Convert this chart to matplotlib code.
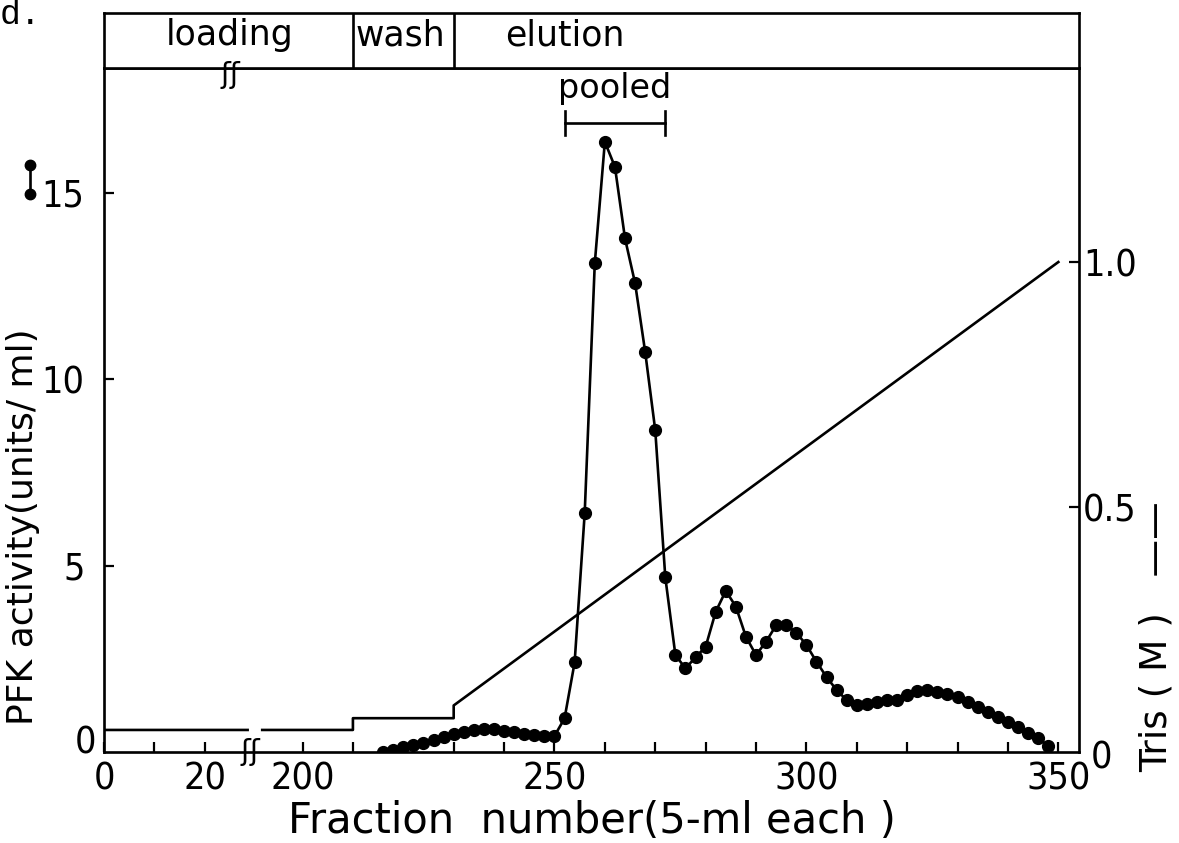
import numpy as np
import matplotlib
matplotlib.use("Agg")
import matplotlib.pyplot as plt
from matplotlib import font_manager as fm

# PFK activity (units/ml) per fraction
fraction = [216, 218, 220, 222, 224, 226, 228, 230, 232, 234, 236, 238, 240, 242,
            244, 246, 248, 250, 252, 254, 256, 258, 260, 262, 264, 266, 268, 270,
            272, 274, 276, 278, 280, 282, 284, 286, 288, 290, 292, 294, 296, 298,
            300, 302, 304, 306, 308, 310, 312, 314, 316, 318, 320, 322, 324, 326,
            328, 330, 332, 334, 336, 338, 340, 342, 344, 346, 348]
pfk = [0.0, 0.05, 0.13, 0.19, 0.25, 0.32, 0.39, 0.48, 0.54, 0.59, 0.61, 0.61, 0.57, 0.53,
       0.48, 0.46, 0.43, 0.43, 0.90, 2.4, 6.4, 13.1, 16.36, 15.69, 13.77, 12.57, 10.73, 8.63,
       4.68, 2.60, 2.24, 2.54, 2.82, 3.76, 4.32, 3.90, 3.09, 2.60, 2.96, 3.40, 3.40, 3.20,
       2.87, 2.42, 2.01, 1.66, 1.39, 1.26, 1.29, 1.34, 1.39, 1.39, 1.53, 1.64, 1.66, 1.62,
       1.55, 1.47, 1.35, 1.20, 1.08, 0.95, 0.81, 0.66, 0.52, 0.37, 0.16]

# Tris (M): loading, wash, then linear elution gradient
tris_x = [0, 28.5, np.nan, 192, 210, 210, 230, 230, 350]
tris_y = [0.045, 0.045, np.nan, 0.045, 0.045, 0.069, 0.069, 0.095, 1.0]

phases = ["loading", "wash", "elution"]
phase_edges = [210, 230]
pooled = [252, 272]

xticks = [0, 10, 20, 200, 210, 220, 230, 240, 250, 260, 270, 280, 290, 300,
          310, 320, 330, 340, 350]
xlabels = ["0", "", "20", "200", "", "", "", "", "250", "", "", "", "", "300",
           "", "", "", "", "350"]

# broken x axis: 29..191 squeezed into a small gap
A, B, OFF = 29.0, 191.0, 160.6
GAP = (B - OFF) - A


def fwd(x):
    x = np.asarray(x, dtype=float)
    return np.where(x <= A, x, np.where(x >= B, x - OFF, A + (x - A) * GAP / (B - A)))


def inv(y):
    y = np.asarray(y, dtype=float)
    return np.where(y <= A, y, np.where(y >= A + GAP, y + OFF, A + (y - A) * (B - A) / GAP))


# a narrow face for the numbers if one is installed
cond = None
for want in ['liberationsansnarrow-regular', 'dejavusanscondensed.ttf', 'robotocondensed-regular']:
    for f in fm.fontManager.ttflist:
        if want in f.fname.lower().replace(' ', ''):
            cond = f.fname
            break
    if cond:
        break
if cond:
    num_fp = fm.FontProperties(fname=cond, size=27)
else:
    num_fp = fm.FontProperties(family='DejaVu Sans', size=24)

W, H = 1179, 843
fig = plt.figure(figsize=(W / 100, H / 100), dpi=100)
plt.rcParams['font.family'] = ['DejaVu Sans']

L, R, T, BOT, HT = 104, 1079, 68, 752, 13
ax = fig.add_axes((L / W, 1 - BOT / H, (R - L) / W, (BOT - T) / H))
ax.set_xscale('function', functions=(fwd, inv))
ax.set_xlim(0, 354.1)
ax.set_ylim(0, 18.34)

lw = 1.9
ax.plot(fraction, pfk, color='black', lw=lw, marker='o', ms=8.5, zorder=3)

ax.set_xticks(xticks)
ax.set_xticklabels(xlabels, fontproperties=num_fp)
ax.set_yticks([5, 10, 15])
ax.set_yticklabels(["5", "10", "15"], fontproperties=num_fp)
ax.tick_params(axis='both', direction='in', length=7, width=1.6)
ax.tick_params(axis='x', pad=7)
ax.tick_params(axis='y', pad=14)
for s in ax.spines.values():
    s.set_linewidth(lw)
ax.text(-0.008, 0.012, "0", transform=ax.transAxes, ha='right', va='center',
        fontproperties=num_fp)

ax2 = ax.twinx()
ax2.set_ylim(0, 1.396)
ax2.plot(tris_x, tris_y, color='black', lw=lw)
ax2.set_yticks([0.5, 1.0])
ax2.set_yticklabels(["0.5", "1.0"], fontproperties=num_fp)
ax2.tick_params(axis='y', direction='in', length=7, width=1.6, pad=3)
ax2.text(1.012, -0.01, "0", transform=ax2.transAxes, ha='left', va='center',
         fontproperties=num_fp)

# break marks
ax.text(fwd(29.6), 0.0, "ʃʃ", transform=ax.get_xaxis_transform(), ha='center',
        va='center', fontsize=21, clip_on=False)

# pooled bracket
ax.plot(pooled, [16.87, 16.87], color='black', lw=lw)
for p in pooled:
    ax.plot([p, p], [16.55, 17.2], color='black', lw=lw)
ax.text(np.mean(pooled), 17.8, "pooled", ha='center', va='center', fontsize=24)

# header with run phases
hx = fig.add_axes((L / W, 1 - T / H, (R - L) / W, (T - HT) / H))
hx.set_xscale('function', functions=(fwd, inv))
hx.set_xlim(0, 354.1)
hx.set_ylim(0, 1)
hx.set_xticks([])
hx.set_yticks([])
for s in hx.spines.values():
    s.set_linewidth(lw)
for e in phase_edges:
    hx.axvline(e, color='black', lw=lw)
hx.text(25, 0.6, phases[0], ha='center', va='center', fontsize=25)
hx.text(210.6, 0.6, phases[1], ha='left', va='center', fontsize=25)
hx.text(252, 0.6, phases[2], ha='center', va='center', fontsize=25)
hx.text(25, -0.12, "ʃʃ", ha='center', va='center', fontsize=21, clip_on=False)

# axis labels
ax.set_xlabel("Fraction  number(5-ml each )", fontsize=30, labelpad=2)
fig.text(23 / W, 1 - 527 / H, "PFK activity(units/ ml)", rotation=90,
         ha='center', va='center', fontsize=26)
fig.text(1157 / W, 1 - 637 / H, "Tris ( M )   ——", rotation=90,
         ha='center', va='center', fontsize=27)
# legend key for the dotted series
fig.lines.append(plt.Line2D([30 / W, 30 / W], [1 - 165 / H, 1 - 194 / H],
                            transform=fig.transFigure, color='black', lw=lw,
                            marker='o', ms=7.5))
fig.text(0, 1 - 15 / H, "d.", ha='left', va='center', fontsize=25,
         family='Liberation Mono')

fig.savefig("out.png", dpi=100)
